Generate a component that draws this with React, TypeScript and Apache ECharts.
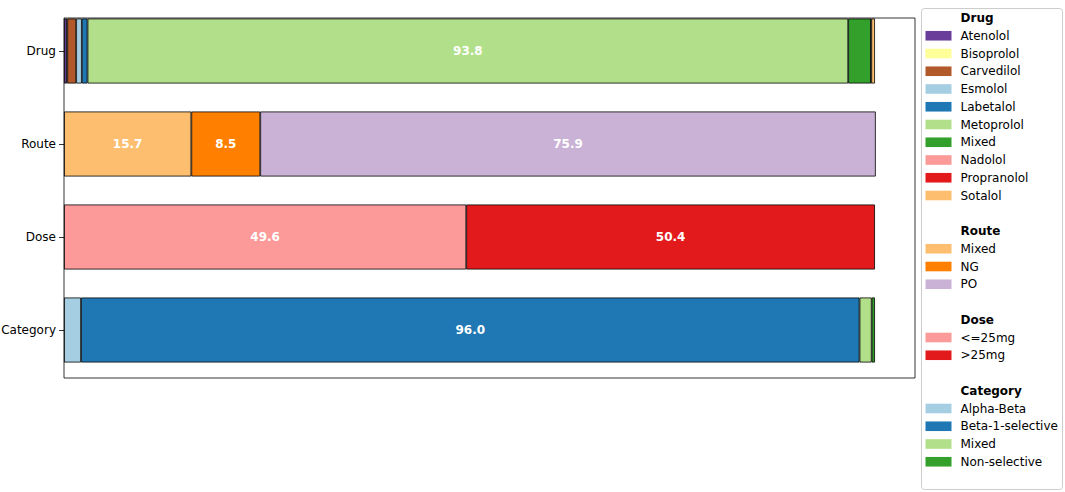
import React, { useEffect, useRef } from "react";
import * as echarts from "echarts";

const categories = ["Drug", "Route", "Dose", "Category"];

const drugNames = ["Atenolol", "Bisoprolol", "Carvedilol", "Esmolol", "Labetalol", "Metoprolol", "Mixed", "Nadolol", "Propranolol", "Sotalol"];
const drugValues = [0.35, 0.05, 1.1, 0.7, 0.7, 93.8, 2.8, 0.02, 0.03, 0.45];
const drugColors = ["#6a3d9a", "#ffff99", "#b15928", "#a6cee3", "#1f78b4", "#b2df8a", "#33a02c", "#fb9a99", "#e31a1c", "#fdbf6f"];

const routeNames = ["Mixed", "NG", "PO"];
const routeValues = [15.7, 8.5, 75.9];
const routeColors = ["#fdbf6f", "#ff7f00", "#cab2d6"];

const doseNames = ["<=25mg", ">25mg"];
const doseValues = [49.6, 50.4];
const doseColors = ["#fb9a99", "#e31a1c"];

const categoryNames = ["Alpha-Beta", "Beta-1-selective", "Mixed", "Non-selective"];
const categoryValues = [2.1, 96.0, 1.5, 0.4];
const categoryColors = ["#a6cee3", "#1f78b4", "#b2df8a", "#33a02c"];

const FONT = "DejaVu Sans";

export default function App() {
  const ref = useRef<HTMLDivElement>(null);
  useEffect(() => {
    if (!ref.current) return;
    const chart = echarts.init(ref.current, null, { renderer: "svg" });
    const groups = [
      { title: "Drug", names: drugNames, values: drugValues, colors: drugColors },
      { title: "Route", names: routeNames, values: routeValues, colors: routeColors },
      { title: "Dose", names: doseNames, values: doseValues, colors: doseColors },
      { title: "Category", names: categoryNames, values: categoryValues, colors: categoryColors },
    ];
    const series: any[] = [];
    groups.forEach((g, gi) => {
      g.names.forEach((n, j) => {
        const v = g.values[j];
        series.push({
          type: "bar",
          stack: "total",
          name: g.title + ":" + n,
          barWidth: 65,
          data: categories.map((_, ci) => (ci === gi ? v : "-")),
          itemStyle: { color: g.colors[j], borderColor: "#000", borderWidth: v < 0.1 ? 0.3 : 0.8 },
          label: {
            show: v >= 5,
            position: "inside",
            color: "#fff",
            fontWeight: "bold",
            fontSize: 12,
            fontFamily: FONT,
            formatter: () => v.toFixed(1),
          },
        });
      });
    });

    const graphics: any[] = [
      {
        type: "rect",
        shape: { x: 64, y: 18, width: 851, height: 360 },
        style: { fill: "none", stroke: "#000", lineWidth: 0.8 },
        z: 100,
      },
      {
        type: "rect",
        shape: { x: 921.5, y: 8.5, width: 141, height: 481, r: 3 },
        style: { fill: "rgba(255,255,255,0.8)", stroke: "#cccccc", lineWidth: 1 },
        z: 100,
      },
    ];
    let row = 0;
    const rowY = (k: number) => 18 + k * 17.75;
    groups.forEach((g, gi) => {
      if (gi > 0) row += 1;
      graphics.push({
        type: "text",
        x: 960.5,
        y: rowY(row),
        z: 101,
        style: { text: g.title, fontFamily: FONT, fontSize: 12, fontWeight: "bold", fill: "#000", verticalAlign: "middle", align: "left" },
      });
      row += 1;
      g.names.forEach((n, j) => {
        const cy = rowY(row);
        graphics.push({
          type: "rect",
          z: 101,
          shape: { x: 925.5, y: cy - 4.8, width: 26, height: 9.6 },
          style: { fill: g.colors[j] },
        });
        graphics.push({
          type: "text",
          x: 960.5,
          y: cy,
          z: 101,
          style: { text: n, fontFamily: FONT, fontSize: 12, fill: "#000", verticalAlign: "middle", align: "left" },
        });
        row += 1;
      });
    });

    chart.setOption({
      animation: false,
      grid: { left: 64, width: 851.5, top: 4.5, height: 372, containLabel: false, outerBoundsMode: "none" },
      xAxis: {
        type: "value",
        min: 0,
        max: 105,
        show: false,
      },
      yAxis: {
        type: "category",
        data: categories,
        inverse: true,
        axisLine: { show: false },
        axisTick: { show: true, alignWithLabel: true, length: 5, lineStyle: { color: "#000", width: 0.8 } },
        axisLabel: { color: "#000", fontFamily: FONT, fontSize: 12, margin: 8 },
        splitLine: { show: false },
      },
      series,
      graphic: graphics,
    });
    return () => chart.dispose();
  }, []);
  return <div ref={ref} style={{ position: "absolute", left: 0, top: 0, width: 1065, height: 492, background: "#fff" }} />;
}
